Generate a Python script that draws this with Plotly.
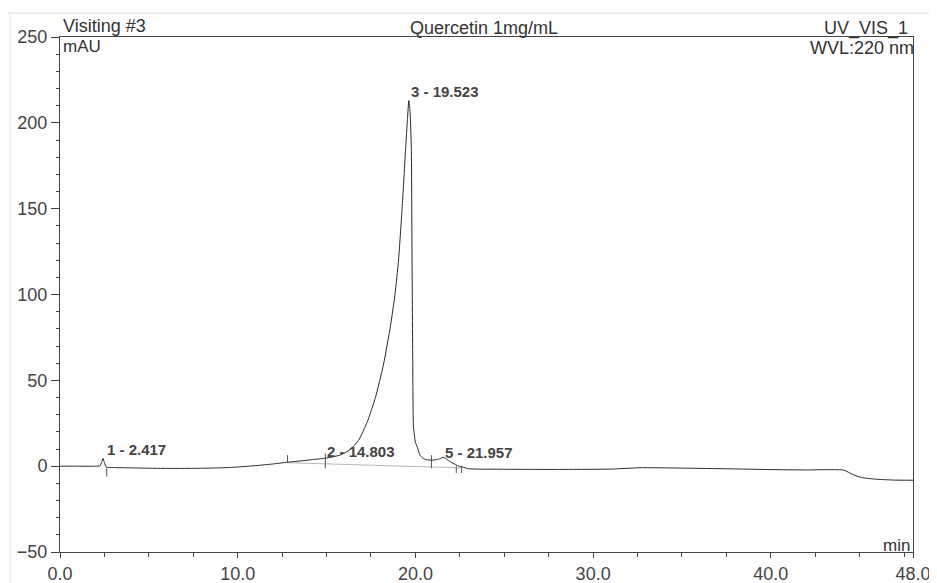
import plotly.graph_objects as go

# ---- data ----
time_min = [0.0, 1.0, 2.0, 2.25, 2.35, 2.42, 2.5, 2.6, 3.0, 4.0, 5.0, 6.0, 7.0, 8.0, 9.0,
            10.0, 11.0, 12.0, 12.8, 13.5, 14.2, 14.9, 15.4, 15.8, 16.3, 16.8, 17.3, 17.75,
            18.2, 18.6, 18.85, 19.05, 19.25, 19.45, 19.55, 19.63, 19.7, 19.77, 19.81, 19.85,
            19.89, 20.0, 20.11, 20.25, 20.4, 20.6, 20.9, 21.2, 21.4, 21.56, 21.7, 21.85,
            22.0, 22.25, 22.45, 22.65, 23.0, 25.0, 28.0, 31.0, 32.7, 35.5, 38.0, 40.0,
            42.0, 44.1, 44.6, 45.1, 45.8, 46.9, 48.0]
signal_mau = [0.0, 0.0, 0.0, 0.2, 2.5, 4.5, 2.0, -0.5, -0.8, -1.0, -1.2, -1.3, -1.3, -1.2, -1.0,
              -0.5, 0.3, 1.3, 2.3, 3.0, 3.8, 4.6, 5.5, 6.6, 9.5, 15.0, 26.0, 40.0,
              59.0, 82.0, 100.0, 120.0, 150.0, 185.0, 202.0, 213.0, 206.0, 185.0, 120.0, 60.0,
              23.0, 14.0, 11.0, 6.5, 4.8, 3.8, 3.5, 3.8, 4.4, 5.2, 4.5, 3.3,
              2.3, 1.0, 0.0, -0.5, -1.5, -1.8, -1.9, -1.7, -0.9, -1.2, -1.6, -2.0,
              -2.2, -2.3, -4.8, -6.6, -7.5, -8.1, -8.2]

peak_labels = ["1 - 2.417", "2 - 14.803", "3 - 19.523", "5 - 21.957"]
peak_label_t = [2.54, 14.93, 19.62, 21.58]
peak_label_v = [9.9, 8.3, 218.0, 8.1]

# peak delimiter marks (time, top value, bottom value)
delim_t = [2.63, 12.8, 14.93, 20.9, 22.3, 22.6]
delim_top = [-1.0, 6.4, 7.5, 6.4, 0.0, 0.0]
delim_bot = [-6.0, 2.3, -1.2, -1.2, -4.0, -4.0]

# integration baseline
base_t = [12.8, 22.6]
base_v = [2.0, -1.0]

x_tickvals = [0, 10, 20, 30, 40, 48]
x_ticktext = ["0.0", "10.0", "20.0", "30.0", "40.0", "48.0"]
y_tickvals = [-50, 0, 50, 100, 150, 200, 250]

# ---- layout geometry (page pixels; the page body adds an 8px offset) ----
OFF = 8
VW, VH = 937, 583
W, H = VW - OFF, VH - OFF
PL, PR, PT, PB = 60, 913, 37, 552          # plot box on the page
L, T = PL - OFF, PT - OFF
R, B = W - (PR - OFF), H - (PB - OFF)
pw, ph = PR - PL, PB - PT

def px(x):
    return (x - PL) / pw

def py(y):
    return (PB - y) / ph

INK = "#333333"
FONT = "Arial, Liberation Sans, sans-serif"

fig = go.Figure()

fig.add_trace(go.Scatter(x=base_t, y=base_v, mode="lines",
                         line=dict(color="#b8b8b8", width=1), hoverinfo="skip"))

dx, dy = [], []
for t, a, b in zip(delim_t, delim_top, delim_bot):
    dx += [t, t, None]
    dy += [a, b, None]
fig.add_trace(go.Scatter(x=dx, y=dy, mode="lines",
                         line=dict(color="#555555", width=1), hoverinfo="skip"))

fig.add_trace(go.Scatter(x=time_min, y=signal_mau, mode="lines",
                         line=dict(color="#2a2a2a", width=1, shape="spline", smoothing=0.5),
                         hoverinfo="skip"))

for txt, t, v in zip(peak_labels, peak_label_t, peak_label_v):
    fig.add_annotation(x=t, y=v, xref="x", yref="y", text="<b>" + txt + "</b>",
                       showarrow=False, xanchor="left", yanchor="middle",
                       font=dict(family=FONT, size=15, color="#444444"))

def label(text, x, y, anchor, size=18):
    fig.add_annotation(x=px(x), y=py(y), xref="paper", yref="paper", text=text,
                       showarrow=False, xanchor=anchor, yanchor="middle", borderpad=0,
                       font=dict(family=FONT, size=size, color=INK))

label("Visiting #3", 62, 26, "left")
label("mAU", 62, 46, "left", 17)
label("Quercetin 1mg/mL", 484, 28, "center")
label("UV_VIS_1", 909, 28, "right")
label("WVL:220 nm", 915, 48, "right")
label("min", 911, 545, "right", 17)

# faint scanned page border
fig.add_shape(type="line", xref="paper", yref="paper", x0=px(OFF), x1=px(VW), y0=py(13), y1=py(13),
              line=dict(color="#dddddd", width=1))
fig.add_shape(type="line", xref="paper", yref="paper", x0=px(10), x1=px(10), y0=py(13), y1=py(VH),
              line=dict(color="#e2e2e2", width=1))

fig.update_layout(
    width=W, height=H,
    margin=dict(l=L, r=R, t=T, b=B, pad=0, autoexpand=False),
    paper_bgcolor="white", plot_bgcolor="white",
    showlegend=False,
    font=dict(family=FONT, size=17, color=INK),
)
fig.update_xaxes(range=[0, 48], tickvals=x_tickvals, ticktext=x_ticktext, automargin=False,
                 showgrid=False, zeroline=False, showline=True, mirror=True,
                 linecolor="#444444", linewidth=1,
                 ticks="outside", ticklen=5, tickcolor="#444444",
                 minor=dict(dtick=2.5, tick0=0, ticks="outside", ticklen=4, tickcolor="#444444", showgrid=False),
                 tickfont=dict(family=FONT, size=18, color="#444444"))
fig.update_yaxes(range=[-50, 250], tickvals=y_tickvals, automargin=False,
                 showgrid=False, zeroline=False, showline=True, mirror=True,
                 linecolor="#444444", linewidth=1,
                 ticks="outside", ticklen=8, tickcolor="#444444",
                 minor=dict(dtick=10, tick0=0, ticks="outside", ticklen=3, tickcolor="#444444", showgrid=False),
                 tickfont=dict(family=FONT, size=18, color="#444444"))

fig.write_html("out.html")
